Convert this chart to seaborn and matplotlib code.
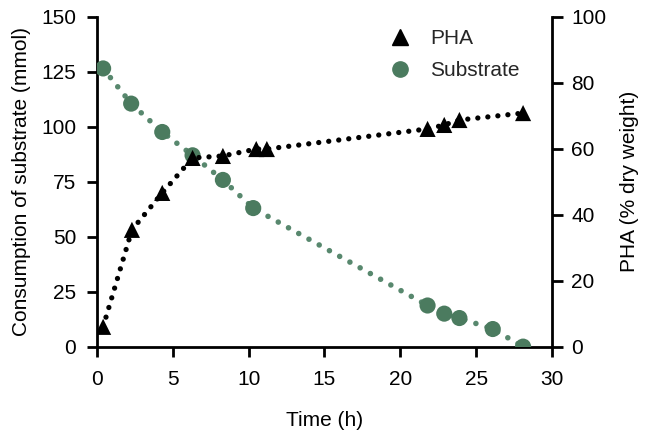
import matplotlib
matplotlib.use("Agg")
import matplotlib.pyplot as plt
import seaborn as sns
import pandas as pd
from matplotlib.lines import Line2D

sns.set_theme(style="ticks")
plt.rcParams['font.family'] = ['Liberation Sans Narrow', 'Liberation Sans', 'DejaVu Sans']

# Data
time_sub = [0.4, 2.25, 4.3, 6.3, 8.3, 10.3, 21.8, 22.9, 23.9, 26.1, 28.1]
substrate = [126.5, 110.5, 97.6, 87.0, 75.8, 63.0, 18.7, 15.0, 13.0, 8.0, 0.0]
time_pha = [0.4, 2.3, 4.3, 6.3, 8.3, 10.5, 11.2, 21.8, 22.9, 23.9, 28.1]
pha = [6.0, 35.4, 46.6, 57.2, 57.8, 59.9, 59.9, 66.0, 67.2, 68.7, 70.8]

sub_df = pd.DataFrame({"Time": time_sub, "Substrate": substrate})
pha_df = pd.DataFrame({"Time": time_pha, "PHA": pha})

GREEN = "#4b7b5f"
GREEN_LINE = "#58886e"

fig = plt.figure(figsize=(6.47, 4.41), dpi=100)
ax = fig.add_axes([0.150, 0.214, 0.703, 0.748])
ax2 = ax.twinx()

sns.lineplot(data=sub_df, x="Time", y="Substrate", ax=ax, color=GREEN_LINE,
             linewidth=4.0, linestyle=(0, (0.01, 2.1)))
ax.lines[-1].set_dash_capstyle("round")
sns.scatterplot(data=sub_df, x="Time", y="Substrate", ax=ax, color=GREEN,
                s=135, marker="o", edgecolor="none", zorder=3)

sns.lineplot(data=pha_df, x="Time", y="PHA", ax=ax2, color="black",
             linewidth=3.8, linestyle=(0, (0.01, 1.9)))
ax2.lines[-1].set_dash_capstyle("round")
sns.scatterplot(data=pha_df, x="Time", y="PHA", ax=ax2, color="black",
                s=135, marker="^", edgecolor="none", zorder=3)

ax.set_xlim(0, 30)
ax.set_ylim(0, 150)
ax2.set_ylim(0, 100)
ax.set_xticks([0, 5, 10, 15, 20, 25, 30])
ax.set_yticks([0, 25, 50, 75, 100, 125, 150])
ax2.set_yticks([0, 20, 40, 60, 80, 100])

fs = 15
ax.tick_params(axis="x", labelsize=fs, width=2, length=7, direction="out", colors="black", pad=10)
ax.tick_params(axis="y", labelsize=fs, width=2, length=7, direction="out", colors="black", pad=8)
ax2.tick_params(axis="y", labelsize=fs, width=2, length=8, direction="out", colors="black", pad=6)

for a in (ax, ax2):
    a.spines["top"].set_visible(False)
    for s in ("left", "right", "bottom"):
        a.spines[s].set_linewidth(2)
        a.spines[s].set_color("black")
ax.spines["right"].set_visible(False)
ax2.spines["left"].set_visible(False)
ax2.spines["bottom"].set_visible(False)

ax.set_xlabel("Time (h)", fontsize=fs, color="black", labelpad=16)
ax.set_ylabel("Consumption of substrate (mmol)", fontsize=fs, color="black", labelpad=7)
ax2.set_ylabel("PHA (% dry weight)", fontsize=fs, color="black", labelpad=10)

handles = [Line2D([], [], marker="^", color="black", linestyle="none", markersize=11),
           Line2D([], [], marker="o", color=GREEN, linestyle="none", markersize=11)]
ax.legend(handles, ["PHA", "Substrate"], loc="upper right", bbox_to_anchor=(0.97, 1.02),
          frameon=False, fontsize=fs, handletextpad=0.45, labelspacing=0.65)

fig.savefig("out.png", dpi=100)
